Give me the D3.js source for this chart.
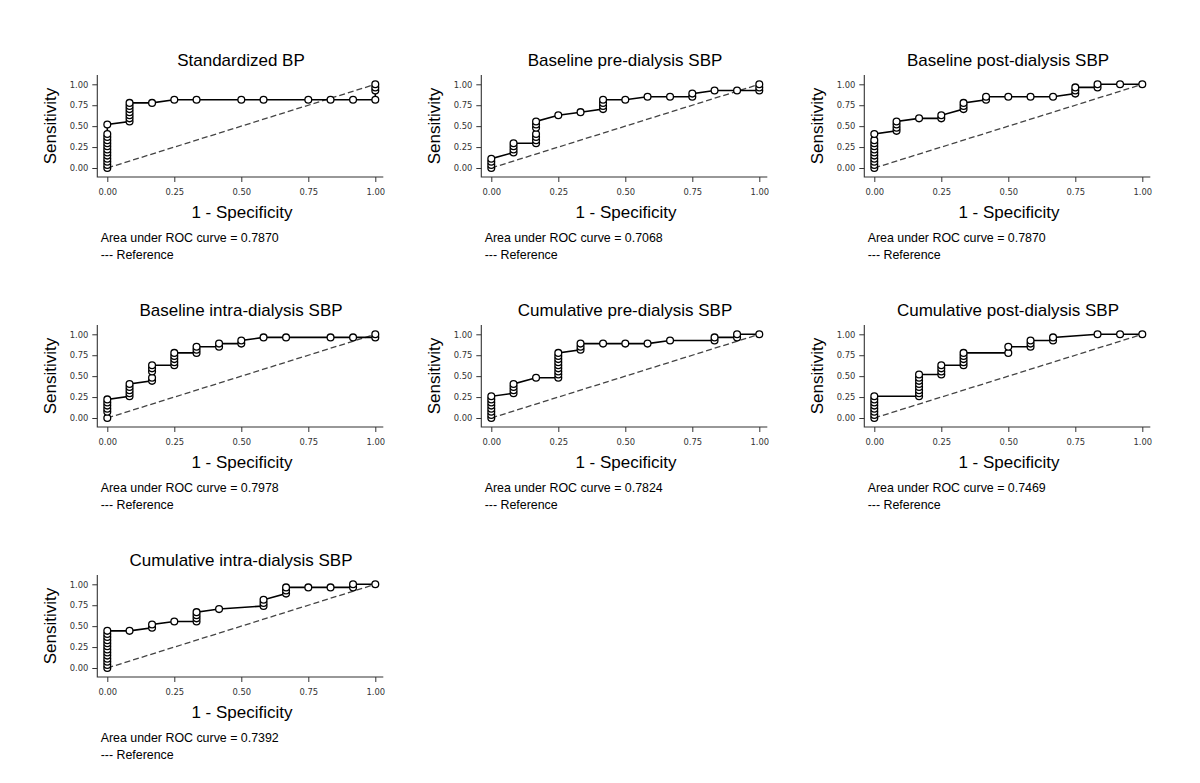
<!DOCTYPE html>
<meta charset="utf-8">
<html>
<head>
  <title>ROC curves</title>
  <script src="https://d3js.org/d3.v7.min.js"></script>
  <style>
    body { margin: 0; background: #fff; }
    text { font-family: "Liberation Sans", Arial, sans-serif; }
    .tick text { font-family: "DejaVu Sans", sans-serif; font-size: 8.4px; fill: #333; }
  </style>
</head>
<body>
<div id="chart"></div>
<script>

// panel titles and AUC values
var titles = ["Standardized BP", "Baseline pre-dialysis SBP", "Baseline post-dialysis SBP",
              "Baseline intra-dialysis SBP", "Cumulative pre-dialysis SBP", "Cumulative post-dialysis SBP",
              "Cumulative intra-dialysis SBP"];
var aucValues = ["0.7870", "0.7068", "0.7870", "0.7978", "0.7824", "0.7469", "0.7392"];
var tickValues = [0, 0.25, 0.5, 0.75, 1];

// ROC points (1 - specificity, sensitivity)
var stdBP_fpr = [0,0,0,0,0,0,0,0,0,0,0,0,0, .083,.083,.083,.083,.083,.083,.083, .167,.25,.333,.5,.583,.75,.833,.917, 1,1,1,1];
var stdBP_tpr = [0,.037,.074,.111,.148,.185,.222,.259,.296,.333,.370,.407,.519, .556,.593,.630,.667,.704,.741,.778, .778,.815,.815,.815,.815,.815,.815,.815, .815,.926,.963,1];

var basePre_fpr = [0,0,0,0, .083,.083,.083,.083, .167,.167,.167,.167,.167,.167,.167, .25,.333, .417,.417,.417,.417, .5,.583,.667, .75,.75, .833,.917, 1,1,1];
var basePre_tpr = [0,.037,.074,.111, .185,.222,.259,.296, .296,.333,.370,.407,.481,.519,.556, .630,.667, .704,.741,.778,.815, .815,.852,.852, .852,.889, .926,.926, .926,.963,1];

var basePost_fpr = [0,0,0,0,0,0,0,0,0,0,0, .083,.083,.083,.083, .167, .25,.25, .333,.333,.333, .417,.417, .5,.583,.667, .75,.75,.75, .833,.833, .917,1];
var basePost_tpr = [0,.037,.074,.111,.148,.185,.222,.259,.296,.333,.407, .444,.481,.519,.556, .593, .593,.630, .704,.741,.778, .815,.852, .852,.852,.852, .889,.926,.963, .963,1, 1,1];

var baseIntra_fpr = [0,0,0,0,0,0, .083,.083,.083,.083,.083, .167,.167,.167,.167,.167, .25,.25,.25,.25,.25, .333,.333,.333, .417,.417, .5,.5, .583,.667,.833,.917, 1,1];
var baseIntra_tpr = [0,.074,.111,.148,.185,.222, .259,.296,.333,.370,.407, .444,.481,.556,.593,.630, .630,.667,.704,.741,.778, .778,.815,.852, .852,.889, .889,.926, .963,.963,.963,.963, .963,1];

var cumPre_fpr = [0,0,0,0,0,0,0,0, .083,.083,.083,.083, .167, .25,.25,.25,.25,.25,.25,.25,.25,.25, .333,.333,.333, .417,.5,.583,.667, .833,.833, .917,.917, 1];
var cumPre_tpr = [0,.037,.074,.111,.148,.185,.222,.259, .296,.333,.370,.407, .481, .481,.519,.556,.593,.630,.667,.704,.741,.778, .815,.852,.889, .889,.889,.889,.926, .926,.963, .963,1, 1];

var cumPost_fpr = [0,0,0,0,0,0,0,0, .167,.167,.167,.167,.167,.167,.167,.167, .25,.25,.25,.25, .333,.333,.333,.333,.333, .5,.5, .583,.583,.583, .667,.667, .833,.917,1];
var cumPost_tpr = [0,.037,.074,.111,.148,.185,.222,.259, .259,.296,.333,.370,.407,.444,.481,.519, .519,.556,.593,.630, .630,.667,.704,.741,.778, .778,.852, .852,.889,.926, .926,.963, 1,1,1];

var cumIntra_fpr = [0,0,0,0,0,0,0,0,0,0,0,0,0, .083, .167,.167, .25, .333,.333,.333,.333, .417, .583,.583,.583, .667,.667,.667, .75,.833, .917,.917, 1];
var cumIntra_tpr = [0,.037,.074,.111,.148,.185,.222,.259,.296,.333,.370,.407,.444, .444, .481,.519, .556, .556,.593,.630,.667, .704, .741,.778,.815, .889,.926,.963, .963,.963, .963,1, 1];

var fprList = [stdBP_fpr, basePre_fpr, basePost_fpr, baseIntra_fpr, cumPre_fpr, cumPost_fpr, cumIntra_fpr];
var tprList = [stdBP_tpr, basePre_tpr, basePost_tpr, baseIntra_tpr, cumPre_tpr, cumPost_tpr, cumIntra_tpr];

// build panel table
var panels = titles.map(function(t, i) {
  return {
    title: t,
    auc: aucValues[i],
    points: fprList[i].map(function(f, j) { return {x: f, y: tprList[i][j]}; })
  };
});

// layout
var colLeft = [97.3, 481.3, 864.3],
    rowTop = [75, 325, 575];
var axisW = 286, axisH = 102;

var svg = d3.select("#chart")
  .append("svg")
    .attr("width", 1200)
    .attr("height", 783);

svg.append("rect").attr("width", 1200).attr("height", 783).attr("fill", "#fff");

var x = d3.scaleLinear().domain([0, 1]).range([10, 278]);
var y = d3.scaleLinear().domain([0, 1]).range([93, 9.3]);

panels.forEach(function(p, i) {
  var g = svg.append("g")
    .attr("transform", "translate(" + colLeft[i % 3] + "," + rowTop[Math.floor(i / 3)] + ")");

  // axes
  var ya = g.append("g")
    .call(d3.axisLeft(y).tickValues(tickValues).tickFormat(d3.format(".2f")).tickSize(5).tickPadding(4));
  ya.select(".domain").remove();
  ya.selectAll(".tick line").attr("stroke", "#333");

  var xa = g.append("g")
    .attr("transform", "translate(0," + axisH + ")")
    .call(d3.axisBottom(x).tickValues(tickValues).tickFormat(d3.format(".2f")).tickSize(5).tickPadding(7.5));
  xa.select(".domain").remove();
  xa.selectAll(".tick line").attr("stroke", "#333");

  g.append("path")
    .attr("d", "M0,0V" + axisH + "H" + axisW)
    .attr("fill", "none")
    .attr("stroke", "#333")
    .attr("stroke-width", 1.1);

  // reference line
  g.append("line")
    .attr("x1", x(0)).attr("y1", y(0))
    .attr("x2", x(1)).attr("y2", y(1))
    .attr("stroke", "#444")
    .attr("stroke-width", 1.3)
    .attr("stroke-dasharray", "6,3");

  // ROC curve
  g.append("path")
    .datum(p.points)
    .attr("d", d3.line().x(function(d) { return x(d.x); }).y(function(d) { return y(d.y); }))
    .attr("fill", "none")
    .attr("stroke", "#000")
    .attr("stroke-width", 1.6);

  g.selectAll("circle")
    .data(p.points)
    .enter().append("circle")
      .attr("cx", function(d) { return x(d.x); })
      .attr("cy", function(d) { return y(d.y); })
      .attr("r", 3.4)
      .attr("fill", "#fff")
      .attr("stroke", "#000")
      .attr("stroke-width", 1.3);

  // texts
  g.append("text")
    .attr("x", 143.7).attr("y", -9)
    .attr("text-anchor", "middle")
    .style("font-size", "17px")
    .text(p.title);

  g.append("text")
    .attr("transform", "translate(-41.6,51)rotate(-90)")
    .attr("text-anchor", "middle")
    .style("font-size", "17px")
    .text("Sensitivity");

  g.append("text")
    .attr("x", 144.7).attr("y", 142.5)
    .attr("text-anchor", "middle")
    .style("font-size", "17px")
    .text("1 - Specificity");

  g.append("text")
    .attr("x", 3.4).attr("y", 166.7)
    .style("font-size", "12.4px")
    .text("Area under ROC curve = " + p.auc);

  g.append("text")
    .attr("x", 3.4).attr("y", 184)
    .style("font-size", "12.4px")
    .text("--- Reference");
});

</script>
</body>
</html>
